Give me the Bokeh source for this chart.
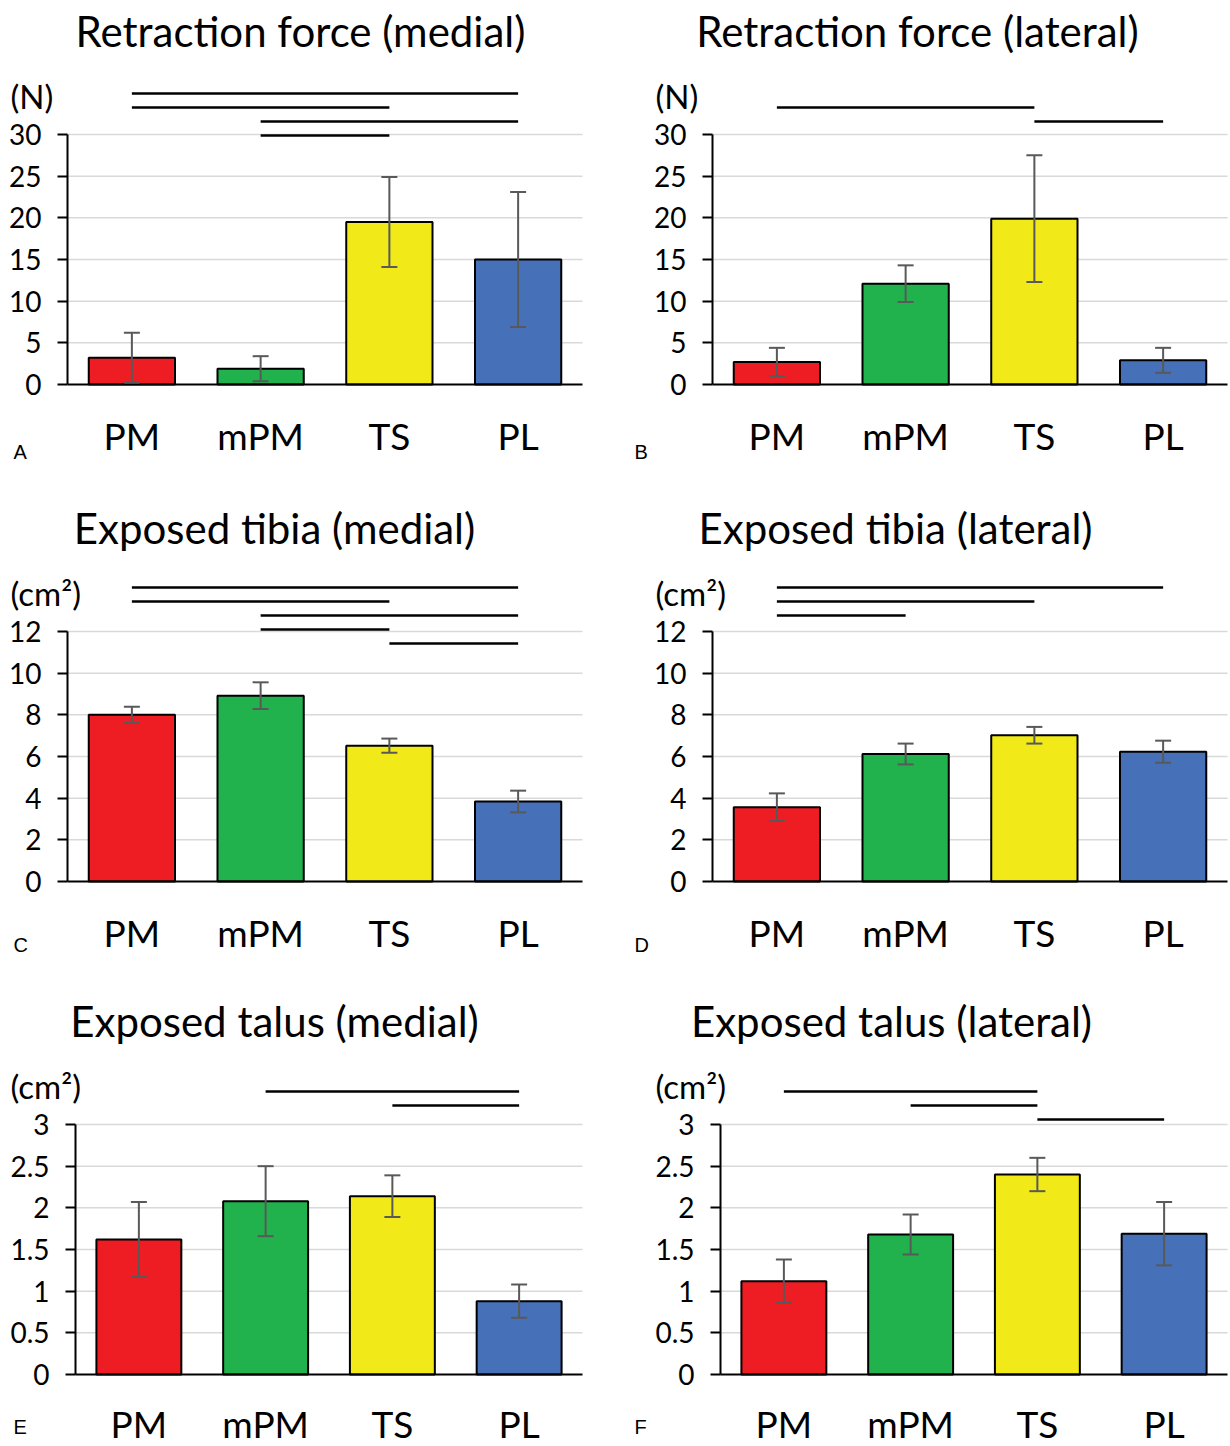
from bokeh.plotting import figure
from bokeh.layouts import column, row
from bokeh.models import ColumnDataSource, Range1d, FixedTicker, Whisker, TeeHead, Label
from bokeh.embed import file_html
from bokeh.resources import INLINE

# ---------------- data ----------------
categories = ["PM", "mPM", "TS", "PL"]
bar_colors = ["#EE1D23", "#21B14D", "#F1EA18", "#4670B8"]

titles = ["Retraction force (medial)", "Retraction force (lateral)",
          "Exposed tibia (medial)", "Exposed tibia (lateral)",
          "Exposed talus (medial)", "Exposed talus (lateral)"]
units = ["(N)", "(N)", "(cm\u00b2)", "(cm\u00b2)", "(cm\u00b2)", "(cm\u00b2)"]
letters = ["A", "B", "C", "D", "E", "F"]

force_medial_mean = [3.2, 1.9, 19.5, 15.0]
force_medial_sd = [3.0, 1.5, 5.4, 8.1]
force_lateral_mean = [2.7, 12.1, 19.9, 2.9]
force_lateral_sd = [1.7, 2.2, 7.6, 1.5]
tibia_medial_mean = [8.0, 8.92, 6.52, 3.84]
tibia_medial_sd = [0.39, 0.64, 0.34, 0.52]
tibia_lateral_mean = [3.57, 6.12, 7.02, 6.23]
tibia_lateral_sd = [0.66, 0.50, 0.40, 0.53]
talus_medial_mean = [1.62, 2.08, 2.14, 0.88]
talus_medial_sd = [0.45, 0.42, 0.25, 0.20]
talus_lateral_mean = [1.12, 1.68, 2.40, 1.69]
talus_lateral_sd = [0.26, 0.24, 0.20, 0.38]

force_ticks = [0, 5, 10, 15, 20, 25, 30]
force_tick_labels = ["0", "5", "10", "15", "20", "25", "30"]
tibia_ticks = [0, 2, 4, 6, 8, 10, 12]
tibia_tick_labels = ["0", "2", "4", "6", "8", "10", "12"]
talus_ticks = [0, 0.5, 1, 1.5, 2, 2.5, 3]
talus_tick_labels = ["0", "0.5", "1", "1.5", "2", "2.5", "3"]

# significant pairs, top line first
force_medial_sig = [("PM", "PL"), ("PM", "TS"), ("mPM", "PL"), ("mPM", "TS")]
force_lateral_sig = [("PM", "TS"), ("TS", "PL")]
tibia_medial_sig = [("PM", "PL"), ("PM", "TS"), ("mPM", "PL"), ("mPM", "TS"), ("TS", "PL")]
tibia_lateral_sig = [("PM", "PL"), ("PM", "TS"), ("PM", "mPM")]
talus_medial_sig = [("mPM", "PL"), ("TS", "PL")]
talus_lateral_sig = [("PM", "TS"), ("mPM", "TS"), ("TS", "PL")]

panels = [
    (force_medial_mean, force_medial_sd, force_ticks, force_tick_labels, force_medial_sig),
    (force_lateral_mean, force_lateral_sd, force_ticks, force_tick_labels, force_lateral_sig),
    (tibia_medial_mean, tibia_medial_sd, tibia_ticks, tibia_tick_labels, tibia_medial_sig),
    (tibia_lateral_mean, tibia_lateral_sd, tibia_ticks, tibia_tick_labels, tibia_lateral_sig),
    (talus_medial_mean, talus_medial_sd, talus_ticks, talus_tick_labels, talus_medial_sig),
    (talus_lateral_mean, talus_lateral_sd, talus_ticks, talus_tick_labels, talus_lateral_sig),
]

# ---------------- layout (pixels) ----------------
FIG_W = [615, 613]
ROW_H = [497, 493, 454]
BASE = 384            # baseline (value 0) from figure top
AXIS_PX = 250         # height of the value axis
AXIS_X = [67, 97, 67, 97, 75, 105]          # y-axis position in figure
PITCH = [128.75, 128.75, 128.75, 128.75, 126.75, 126.75]
TITLE_CX = [300, 302, 274, 280, 274, 276]    # title centre in figure
UNIT_X = [10, 40]
LETTER_X = [13, 19]
LETTER_DY = [67, 63, 52]
XLAB_STANDOFF = [28, 28, 26]
SIG_TOP = [291, 277, 294, 294, 283, 283]
SIG_STEP = 14
FONT = "Lato"

xpos = [k + 0.5 for k in range(len(categories))]
ncat = len(categories)

figs = []
for i, (mean, sd, ticks, tick_labels, sig) in enumerate(panels):
    r, c = divmod(i, 2)
    ymax = ticks[-1]
    ppu = AXIS_PX / ymax
    W, H = FIG_W[c], ROW_H[r]
    L, pitch = AXIS_X[i], PITCH[i]
    p = figure(width=W, height=H,
               x_range=Range1d(-L / pitch, (W - L) / pitch),
               y_range=Range1d((BASE - H) / ppu, BASE / ppu),
               output_backend="svg", toolbar_location=None, min_border=0)
    p.outline_line_color = None
    p.background_fill_color = "white"
    p.border_fill_color = "white"
    p.grid.visible = False

    # grid lines (bounded to plot area)
    gt = ticks[1:]
    p.segment(x0=[0] * len(gt), x1=[ncat] * len(gt), y0=gt, y1=gt,
              line_color="#D9D9D9", line_width=1.5)

    src = ColumnDataSource(dict(x=xpos, top=mean,
                                upper=[m + s for m, s in zip(mean, sd)],
                                lower=[max(m - s, 0) for m, s in zip(mean, sd)],
                                color=bar_colors))
    p.vbar(x="x", top="top", width=0.67, source=src, fill_color="color",
           line_color="black", line_width=2)
    w = Whisker(base="x", upper="upper", lower="lower", source=src,
                line_color="#595959", line_width=2, level="annotation",
                upper_head=TeeHead(size=16, line_color="#595959", line_width=2),
                lower_head=TeeHead(size=16, line_color="#595959", line_width=2))
    p.add_layout(w)

    idx = {cat: k for k, cat in enumerate(categories)}
    levels = [(SIG_TOP[i] - k * SIG_STEP) / ppu for k in range(len(sig))]
    p.segment(x0=[xpos[idx[a]] for a, b in sig], x1=[xpos[idx[b]] for a, b in sig],
              y0=levels, y1=levels, line_color="black", line_width=2.5)

    # y axis
    ya = p.yaxis[0]
    ya.fixed_location = 0
    ya.ticker = FixedTicker(ticks=ticks)
    ya.major_label_overrides = {t: l for t, l in zip(ticks, tick_labels)}
    ya.bounds = (0, ymax)
    ya.major_tick_out = 10
    ya.major_tick_in = 0
    ya.minor_tick_out = 0
    ya.minor_tick_in = 0
    ya.axis_line_width = 2
    ya.axis_line_color = "black"
    ya.major_tick_line_width = 2
    ya.major_tick_line_color = "black"
    ya.major_label_text_font = FONT
    ya.major_label_text_font_size = "28px"
    ya.major_label_text_color = "black"
    ya.major_label_standoff = 16

    # x axis
    xa = p.xaxis[0]
    xa.fixed_location = 0
    xa.ticker = FixedTicker(ticks=xpos)
    xa.major_label_overrides = {x: cat for x, cat in zip(xpos, categories)}
    xa.bounds = (0, ncat)
    xa.major_tick_out = 0
    xa.major_tick_in = 0
    xa.minor_tick_out = 0
    xa.minor_tick_in = 0
    xa.axis_line_width = 2
    xa.axis_line_color = "black"
    xa.major_label_text_font = FONT
    xa.major_label_text_font_size = "37px"
    xa.major_label_text_color = "black"
    xa.major_label_standoff = XLAB_STANDOFF[r]

    def dx(px):
        return (px - L) / pitch

    p.add_layout(Label(x=dx(TITLE_CX[i]), y=354 / ppu, text=titles[i],
                       text_font=FONT, text_font_size="42px", text_color="black",
                       text_align="center", text_baseline="middle"))
    p.add_layout(Label(x=dx(UNIT_X[c]), y=289 / ppu, text=units[i],
                       text_font=FONT, text_font_size="33px", text_color="black",
                       text_align="left", text_baseline="middle"))
    p.add_layout(Label(x=dx(LETTER_X[c]), y=-LETTER_DY[r] / ppu, text=letters[i],
                       text_font="Liberation Sans", text_font_size="20px", text_color="black",
                       text_align="left", text_baseline="middle"))
    figs.append(p)

layout = column(row(figs[0], figs[1]), row(figs[2], figs[3]), row(figs[4], figs[5]))
open("out.html", "w").write(file_html(layout, INLINE))
